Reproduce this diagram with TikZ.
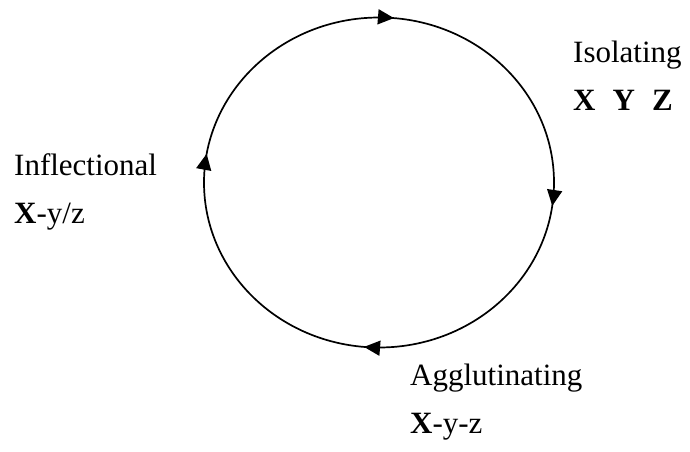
\documentclass[tikz,border=0pt]{standalone}
\usepackage{fontspec}
\setmainfont{Liberation Serif}
\usetikzlibrary{decorations.markings, arrows.meta, positioning}
\tikzset{el/.style={line cap=round, line join=round},
  lbl/.style={anchor=base west, inner sep=0pt, font=\fontsize{31}{37}\selectfont},
  tip/.style={decoration={markings,
     mark=at position 0.022 with {\arrow{Triangle[length=16pt,width=15pt]}},
     mark=at position 0.264 with {\arrow{Triangle[length=16pt,width=15pt]}},
     mark=at position 0.527 with {\arrow{Triangle[length=16pt,width=15pt]}},
     mark=at position 0.764 with {\arrow{Triangle[length=16pt,width=15pt]}}},
     postaction={decorate}}}
\begin{document}
\begin{tikzpicture}[el, x=1pt, y=-1pt]
  \useasboundingbox (0,0) rectangle (690,451);
  % the cycle
  \coordinate (c) at (379,182.5);
  \draw[line width=1.7pt, tip] (c) ellipse [x radius=175, y radius=165];
  % the three types
  \node[lbl] (iso) at (573,62) {Isolating};
  \node[lbl] (isoex) at (573,110) {\textbf{X}\hspace{0.55em}\textbf{Y}\hspace{0.55em}\textbf{Z}};
  \node[lbl] (infl) at (14,175) {Inflectional};
  \node[lbl] (inflex) at (14,223) {\textbf{X}-y/z};
  \node[lbl] (aggl) at (410,385) {Agglutinating};
  \node[lbl] (agglex) at (410,433) {\textbf{X}-y-z};
\end{tikzpicture}
\end{document}
